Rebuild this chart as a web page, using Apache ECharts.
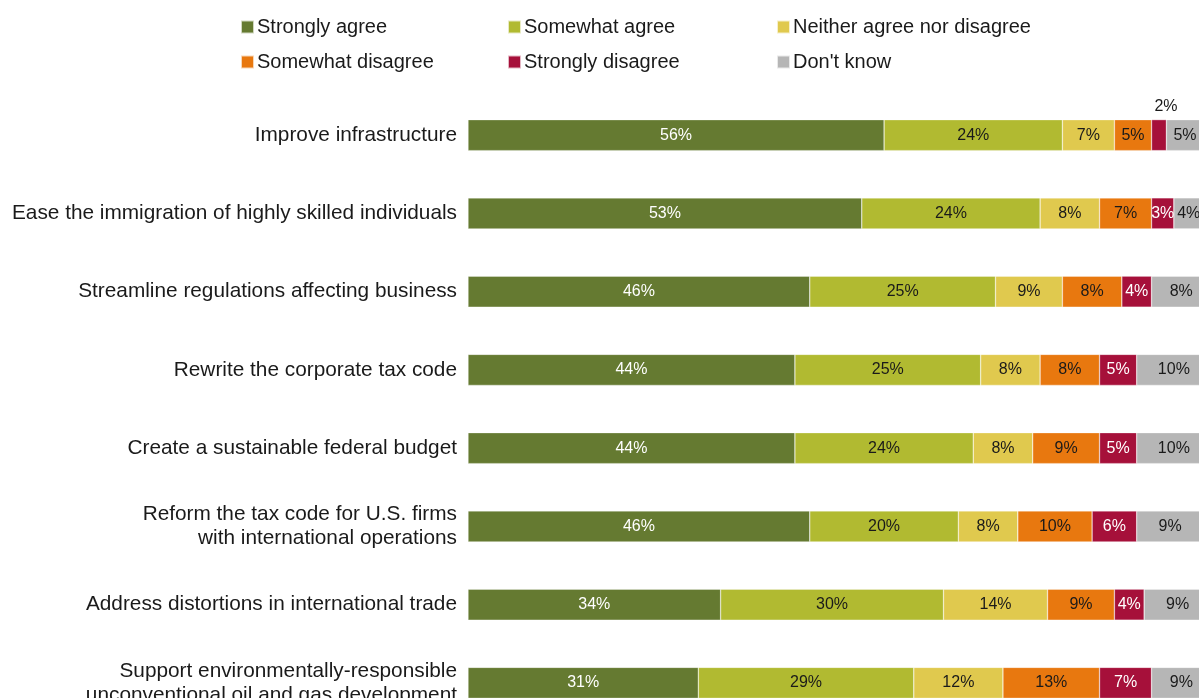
<!DOCTYPE html>
<html>
<head>
<meta charset="utf-8">
<script src="https://cdn.jsdelivr.net/npm/echarts@6/dist/echarts.min.js"></script>
<style>
  html, body { margin: 0; padding: 0; background: #fff; }
  #chart { width: 1199px; height: 698px; }
</style>
</head>
<body>
<div id="chart"></div>
<script>
// Policy priorities: share of respondents by level of agreement (%)
const categories = [
  'Improve infrastructure',
  'Ease the immigration of highly skilled individuals',
  'Streamline regulations affecting business',
  'Rewrite the corporate tax code',
  'Create a sustainable federal budget',
  'Reform the tax code for U.S. firms\nwith international operations',
  'Address distortions in international trade',
  'Support environmentally-responsible\nunconventional oil and gas development'
];
const responses = ['Strongly agree', 'Somewhat agree', 'Neither agree nor disagree',
                   'Somewhat disagree', 'Strongly disagree', "Don't know"];
const stronglyAgree    = [56, 53, 46, 44, 44, 46, 34, 31];
const somewhatAgree    = [24, 24, 25, 25, 24, 20, 30, 29];
const neither          = [7, 8, 9, 8, 8, 8, 14, 12];
const somewhatDisagree = [5, 7, 8, 8, 9, 10, 9, 13];
const stronglyDisagree = [2, 3, 4, 5, 5, 6, 4, 7];
const dontKnow         = [5, 4, 8, 10, 10, 9, 9, 9];

const seriesValues = [stronglyAgree, somewhatAgree, neither, somewhatDisagree, stronglyDisagree, dontKnow];
const colors = ['#657a31', '#b1ba31', '#e0c94e', '#e8780f', '#a6103a', '#b6b6b6'];
const labelColors = ['#ffffff', '#1a1a1a', '#1a1a1a', '#1a1a1a', '#ffffff', '#1a1a1a'];

const FONT = '"Liberation Sans", Arial, sans-serif';

const series = responses.map((name, i) => ({
  name,
  type: 'bar',
  stack: 'total',
  barWidth: 31,
  itemStyle: { color: colors[i], borderColor: 'rgba(255,255,255,0.7)', borderWidth: 0.5 },
  label: {
    show: true,
    position: 'inside',
    color: labelColors[i],
    fontFamily: FONT,
    fontSize: 16,
    formatter: p => p.value + '%'
  },
  emphasis: { disabled: true },
  data: seriesValues[i].map(v => v <= 2
    ? { value: v, label: { position: 'top', distance: 5, offset: [7, 0], color: '#1a1a1a' } }
    : v)
}));

// Legend laid out as a 3 x 2 grid
const legendCols = [240, 507, 776];
const legendRows = [17, 52];
const legends = responses.map((name, i) => ({
  data: [name],
  left: legendCols[i % 3],
  top: legendRows[Math.floor(i / 3)],
  icon: 'rect',
  itemWidth: 13,
  itemHeight: 13,
  itemGap: 0,
  padding: 0,
  selectedMode: false,
  textStyle: { fontFamily: FONT, fontSize: 20, color: '#1a1a1a', padding: [0, 0, 0, -2] }
}));

const chart = echarts.init(document.getElementById('chart'), null, { renderer: 'canvas' });
chart.setOption({
  animation: false,
  color: colors,
  legend: legends,
  grid: { left: 468, top: 96, width: 743, height: 626, containLabel: false, outerBoundsMode: 'none' },
  xAxis: {
    type: 'value',
    min: 0,
    max: 100,
    show: false
  },
  yAxis: {
    type: 'category',
    data: categories,
    inverse: true,
    axisLine: { show: false },
    axisTick: { show: false },
    splitLine: { show: false },
    axisLabel: {
      fontFamily: FONT,
      fontSize: 20.8,
      color: '#1a1a1a',
      margin: 11,
      lineHeight: 24,
      align: 'right'
    }
  },
  series
});
</script>
</body>
</html>
